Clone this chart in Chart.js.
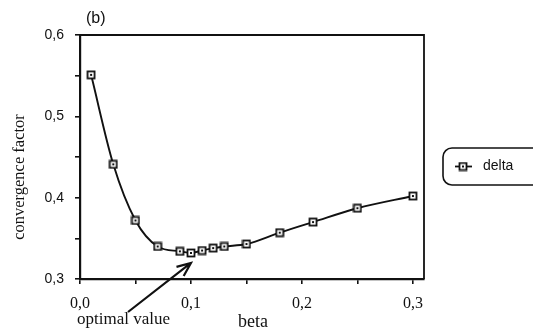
<!DOCTYPE html>
<html>
<head>
<meta charset="utf-8">
<script src="https://cdn.jsdelivr.net/npm/chart.js@4.4.0/dist/chart.umd.min.js"></script>
<style>
    html, body { margin: 0; padding: 0; background: #fff; }
    #wrap { width: 533px; height: 330px; position: relative; }
</style>
</head>
<body>
<div id="wrap"><canvas id="convChart"></canvas></div>
<script>
    // beta values and the measured convergence factor
    const betas = [0.01, 0.03, 0.05, 0.07, 0.09, 0.10, 0.11, 0.12, 0.13, 0.15, 0.18, 0.21, 0.25, 0.30];
    const delta = [0.551, 0.441, 0.372, 0.340, 0.334, 0.332, 0.335, 0.338, 0.340, 0.343, 0.357, 0.370, 0.387, 0.402];
    const xTicks = [0.0, 0.1, 0.2, 0.3];
    const yTicks = [0.3, 0.4, 0.5, 0.6];

    const serif = '"Liberation Serif", "DejaVu Serif", serif';
    const sans = '"Liberation Sans", Arial, sans-serif';

    // square marker with a dot in the middle
    function squareMarker() {
        const c = document.createElement('canvas');
        c.width = 10; c.height = 10;
        const g = c.getContext('2d');
        g.fillStyle = '#fff';
        g.fillRect(1, 1, 8, 8);
        g.strokeStyle = '#111';
        g.lineWidth = 1.8;
        g.strokeRect(1.5, 1.5, 7, 7);
        g.fillStyle = '#111';
        g.fillRect(4, 4, 2, 2);
        return c;
    }
    const marker = squareMarker();

    const comma = (v, list) => {
        const hit = list.find(t => Math.abs(t - v) < 1e-6);
        return hit === undefined ? '' : hit.toFixed(1).replace('.', ',');
    };

    // frame, annotation and legend box
    const extras = {
        id: 'extras',
        afterDraw(chart) {
            const ctx = chart.ctx;
            const a = chart.chartArea;
            const x = chart.scales.x, y = chart.scales.y;
            ctx.save();
            ctx.strokeStyle = '#111';
            ctx.lineWidth = 1.8;
            ctx.beginPath();
            ctx.moveTo(a.left, a.top);
            ctx.lineTo(a.right, a.top);
            ctx.lineTo(a.right, a.bottom);
            ctx.stroke();

            ctx.fillStyle = '#111';
            ctx.font = '16px ' + sans;
            ctx.textBaseline = 'middle';
            ctx.textAlign = 'left';
            ctx.fillText('(b)', 86, 19);

            // y axis title
            ctx.save();
            ctx.translate(20, 177);
            ctx.rotate(-Math.PI / 2);
            ctx.textAlign = 'center';
            ctx.font = '16.5px ' + serif;
            ctx.fillText('convergence factor', 0, 0);
            ctx.restore();

            // x axis title
            ctx.textAlign = 'center';
            ctx.font = '18px ' + serif;
            ctx.fillText('beta', 253, 322);

            // arrow to the minimum
            const tipX = x.getPixelForValue(0.10), tipY = y.getPixelForValue(0.332) + 10;
            const tailX = 128, tailY = 312;
            ctx.lineWidth = 2.2;
            ctx.beginPath();
            ctx.moveTo(tailX, tailY);
            ctx.lineTo(tipX, tipY);
            const ang = Math.atan2(tipY - tailY, tipX - tailX);
            const h = 15;
            ctx.moveTo(tipX - h * Math.cos(ang - 0.4), tipY - h * Math.sin(ang - 0.4));
            ctx.lineTo(tipX, tipY);
            ctx.lineTo(tipX - h * Math.cos(ang + 0.4), tipY - h * Math.sin(ang + 0.4));
            ctx.stroke();

            ctx.font = '17px ' + serif;
            ctx.textAlign = 'left';
            ctx.fillText('optimal value', 77, 320);

            // legend
            const lx = 443, ly = 148, lw = 100, lh = 37, r = 9;
            ctx.lineWidth = 1.6;
            ctx.beginPath();
            ctx.roundRect(lx, ly, lw, lh, r);
            ctx.stroke();
            const my = ly + lh / 2;
            ctx.lineWidth = 1.8;
            ctx.beginPath();
            ctx.moveTo(455, my);
            ctx.lineTo(472, my);
            ctx.stroke();
            ctx.drawImage(marker, 458, my - 5);
            ctx.font = '14px ' + sans;
            ctx.fillText(chart.data.datasets[0].label, 483, my);
            ctx.restore();
        }
    };

    new Chart(document.getElementById('convChart'), {
        type: 'line',
        data: {
            datasets: [{
                label: 'delta',
                data: betas.map((b, i) => ({ x: b, y: delta[i] })),
                borderColor: '#111',
                borderWidth: 1.9,
                cubicInterpolationMode: 'monotone',
                pointStyle: marker,
                pointRadius: 5,
                fill: false
            }]
        },
        options: {
            responsive: true,
            maintainAspectRatio: false,
            animation: false,
            layout: { padding: { top: 35, right: 109, left: 0, bottom: 0 } },
            plugins: {
                legend: { display: false },
                tooltip: { enabled: false }
            },
            scales: {
                x: {
                    type: 'linear',
                    min: 0,
                    max: 0.31,
                    afterFit(s) { s.height = 51; },
                    border: { display: true, color: '#111', width: 2.2 },
                    grid: { drawOnChartArea: false, drawTicks: true, tickLength: 5, color: '#111', lineWidth: 1.6 },
                    ticks: {
                        stepSize: 0.05,
                        includeBounds: false,
                        autoSkip: false,
                        maxRotation: 0,
                        padding: 10,
                        color: '#111',
                        font: { family: serif, size: 16 },
                        callback: v => comma(v, xTicks)
                    }
                },
                y: {
                    min: 0.3,
                    max: 0.6,
                    afterFit(s) { s.width = 80; },
                    border: { display: true, color: '#111', width: 2.2 },
                    grid: { drawOnChartArea: false, drawTicks: true, tickLength: 5, color: '#111', lineWidth: 1.6 },
                    ticks: {
                        stepSize: 0.05,
                        autoSkip: false,
                        padding: 11,
                        color: '#111',
                        font: { family: sans, size: 14 },
                        callback: v => comma(v, yTicks)
                    }
                }
            }
        },
        plugins: [extras]
    });
</script>
</body>
</html>
